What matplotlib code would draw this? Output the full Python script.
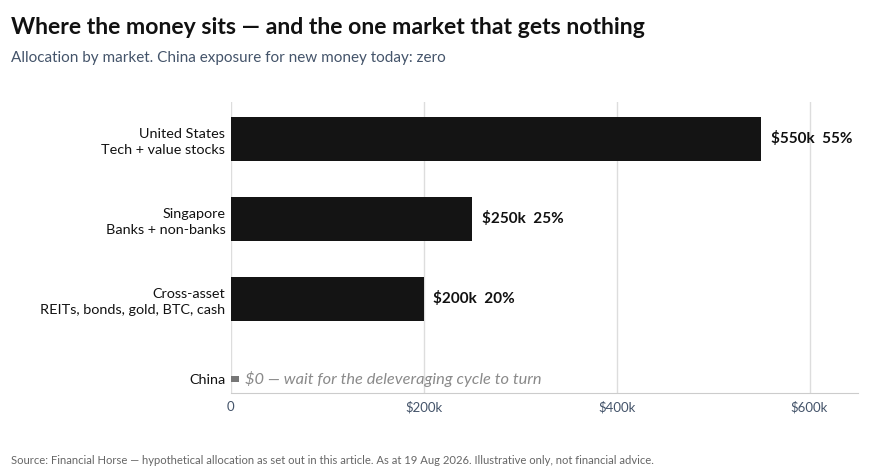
import numpy as np
import matplotlib.pyplot as plt

plt.rcParams['font.family'] = ['Lato', 'DejaVu Sans']

markets = ['United States', 'Singapore', 'Cross-asset', 'China']
details = ['Tech + value stocks', 'Banks + non-banks', 'REITs, bonds, gold, BTC, cash', '']
amounts = [550, 250, 200, 0]  # $k
shares = [55, 25, 20, 0]
xticks = [0, 200, 400, 600]
xtick_labels = ['0', '$200k', '$400k', '$600k']

fig = plt.figure(figsize=(8.88, 4.74), dpi=100)
ax = fig.add_axes([0.260, 0.171, 0.706, 0.614])

y = np.arange(len(markets))
for i, v in enumerate(amounts):
    if v > 0:
        ax.barh(y[i], v, height=0.55, color='#141414', zorder=3)
        ax.text(v + 10, y[i], f'${v}k  {shares[i]}%', va='center', ha='left',
                fontsize=11, fontweight='bold', color='#111111')
    else:
        ax.barh(y[i], 8, height=0.07, color='#777777', zorder=3)
        ax.text(15, y[i], '$0 — wait for the deleveraging cycle to turn', va='center',
                ha='left', fontsize=11.8, style='italic', color='#8a8a8a')

ax.set_xlim(0, 650)
ax.set_ylim(3.175, -0.4625)
ax.set_xticks(xticks)
ax.set_xticklabels(xtick_labels, fontsize=9.5, color='#44546a')
ax.set_yticks(y)
ax.set_yticklabels([m if d == '' else f'{m}\n{d}' for m, d in zip(markets, details)],
                   fontsize=10.4, color='#111111', linespacing=1.4)
ax.tick_params(length=0, pad=6)
ax.tick_params(axis='y', pad=4)
ax.grid(axis='x', color='#dddddd', linewidth=1, zorder=0)
for s in ['top', 'right', 'left']:
    ax.spines[s].set_visible(False)
ax.spines['bottom'].set_color('#cccccc')

fig.text(0.012, 0.943, 'Where the money sits — and the one market that gets nothing',
         fontsize=16.6, fontweight='bold', color='#111111', va='center')
fig.text(0.012, 0.878, 'Allocation by market. China exposure for new money today: zero',
         fontsize=11, color='#44546a', va='center')
fig.text(0.012, 0.029, 'Source: Financial Horse — hypothetical allocation as set out in this article. '
         'As at 19 Aug 2026. Illustrative only, not financial advice.',
         fontsize=8.1, color='#666666', va='center')

fig.savefig('out.png', dpi=100)
